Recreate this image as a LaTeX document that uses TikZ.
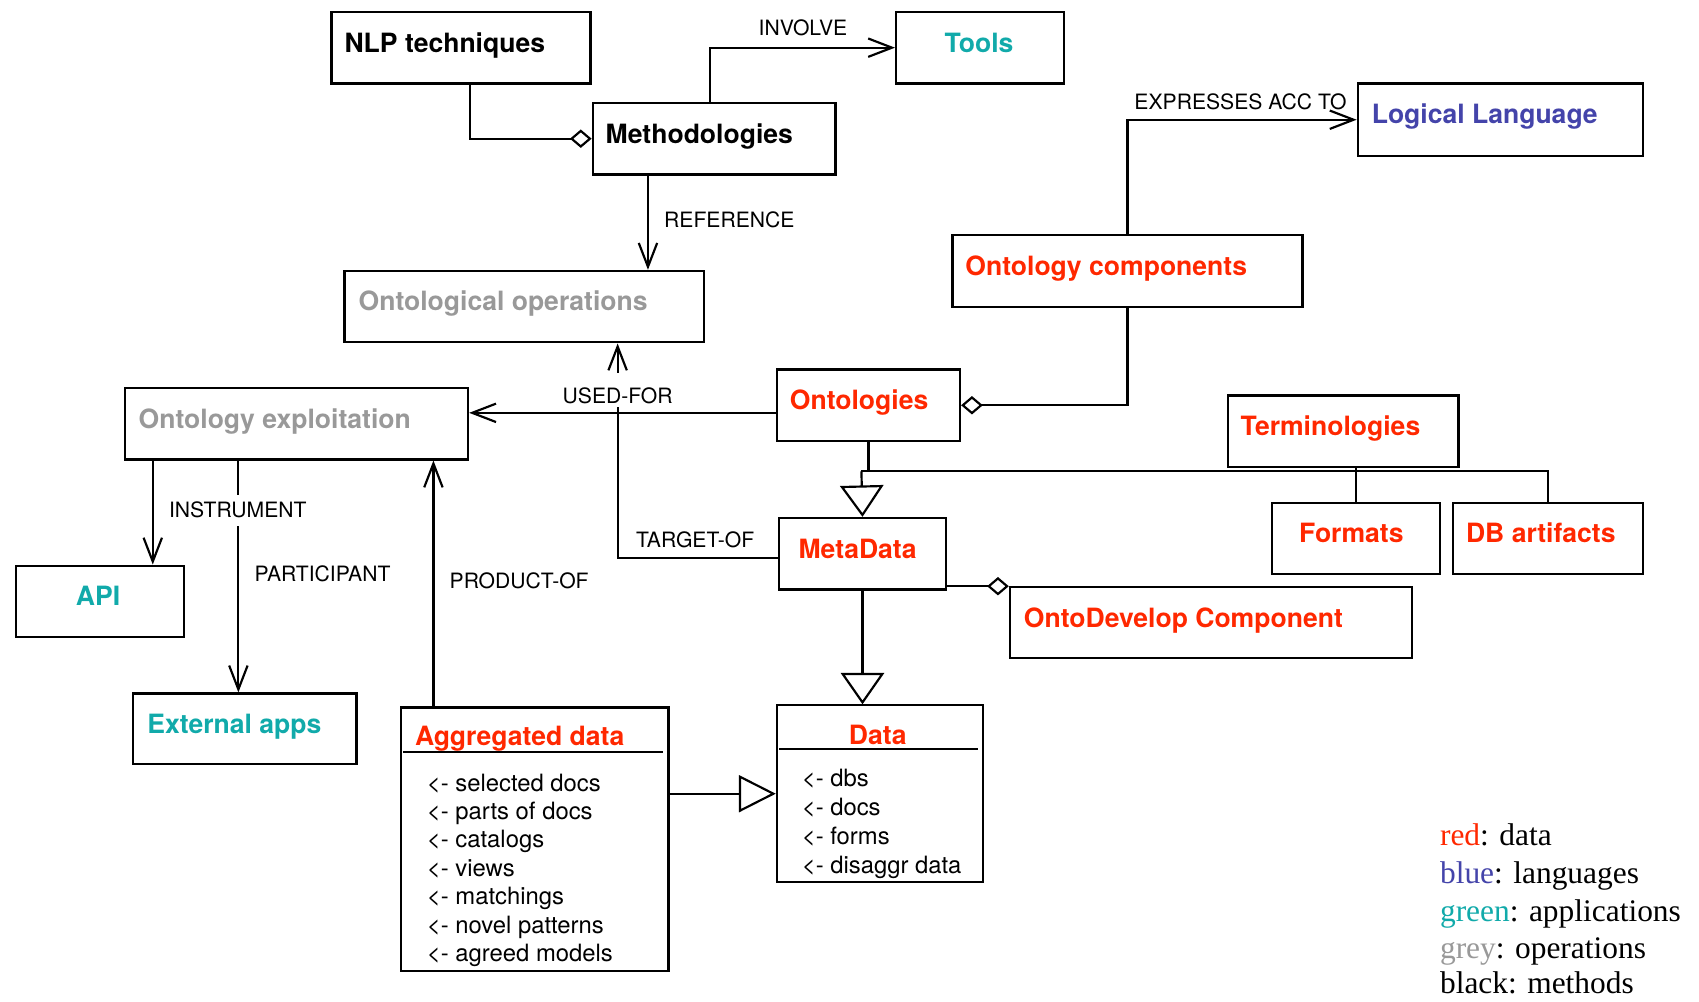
\documentclass[tikz,border=0pt]{standalone}
\usepackage{fontspec}
\setmainfont{TeX Gyre Heros}
\newfontfamily\legendfont{Liberation Serif}
\usetikzlibrary{arrows.meta}
\definecolor{datared}{RGB}{255,40,0}
\definecolor{langblue}{RGB}{68,68,170}
\definecolor{appteal}{RGB}{17,170,170}
\definecolor{opgrey}{RGB}{153,153,153}
\begin{document}
\begin{tikzpicture}[x=1pt,y=-1pt,line width=2pt,
  box/.style={draw=black,rectangle,inner sep=0pt,anchor=north west},
  ttl/.style={font=\fontsize{24.5}{29}\selectfont\bfseries,inner sep=0pt,anchor=base west},
  rel/.style={font=\fontsize{19.5}{23}\selectfont,inner sep=0pt,anchor=base west},
  item/.style={font=\fontsize{22}{26}\selectfont,inner sep=0pt,anchor=base west},
  legend/.style={font=\legendfont\fontsize{29}{35}\selectfont,inner sep=0pt,anchor=base west},
  arr/.style={-{Straight Barb[length=22pt,width=17pt]}},
  gen/.style={-{Triangle[length=29pt,width=40pt,fill=white]}},
  gensq/.style={-{Triangle[length=34pt,width=34pt,fill=white]}},
  whole/.style={{Diamond[length=20pt,width=17pt,fill=white]}-}]

\fill[white] (0,0) rectangle (1568,924);
\useasboundingbox (0,0) rectangle (1568,924);

% boxes
\node[box,minimum width=239pt,minimum height=66pt] (nlp) at (305,10) {};
\node[box,minimum width=224pt,minimum height=66pt] (meth) at (546,94) {};
\node[box,minimum width=155pt,minimum height=66pt] (tools) at (826,10) {};
\node[box,minimum width=263pt,minimum height=67pt] (logic) at (1252,76) {};
\node[box,minimum width=332pt,minimum height=66pt] (ontop) at (317,249) {};
\node[box,minimum width=323pt,minimum height=66pt] (ocomp) at (878,216) {};
\node[box,minimum width=317pt,minimum height=66pt] (exploit) at (114,357) {};
\node[box,minimum width=169pt,minimum height=66pt] (ontol) at (716,340) {};
\node[box,minimum width=213pt,minimum height=66pt] (term) at (1132,364) {};
\node[box,minimum width=154pt,minimum height=66pt] (meta) at (718,477) {};
\node[box,minimum width=155pt,minimum height=66pt] (formats) at (1173,463) {};
\node[box,minimum width=175pt,minimum height=66pt] (dbart) at (1340,463) {};
\node[box,minimum width=155pt,minimum height=66pt] (api) at (14,521) {};
\node[box,minimum width=371pt,minimum height=65pt] (ontodev) at (931,541) {};
\node[box,minimum width=206pt,minimum height=65pt] (extapp) at (122,639) {};
\node[box,minimum width=247pt,minimum height=243pt] (agg) at (369,652) {};
\node[box,minimum width=190pt,minimum height=163pt] (data) at (716,650) {};

% box titles
\node[ttl] (t-nlp) at (317,48) {NLP techniques};
\node[ttl] (t-meth) at (558,132) {Methodologies};
\node[ttl,anchor=base,text=appteal] (t-tools) at (903.5,48) {Tools};
\node[ttl,text=langblue] (t-logic) at (1265,114) {Logical Language};
\node[ttl,text=opgrey] (t-ontop) at (330,287) {Ontological operations};
\node[ttl,text=datared] (t-ocomp) at (890,254) {Ontology components};
\node[ttl,text=opgrey] (t-exploit) at (127,395) {Ontology exploitation};
\node[ttl,text=datared] (t-ontol) at (728,378) {Ontologies};
\node[ttl,text=datared] (t-term) at (1144,402) {Terminologies};
\node[ttl,text=datared] (t-meta) at (736,515) {MetaData};
\node[ttl,text=datared] (t-formats) at (1198,501) {Formats};
\node[ttl,text=datared] (t-dbart) at (1352,501) {DB artifacts};
\node[ttl,anchor=base,text=appteal] (t-api) at (90.5,559) {API};
\node[ttl,text=datared] (t-ontodev) at (944,579) {OntoDevelop Component};
\node[ttl,text=appteal] (t-extapp) at (135,677) {External apps};
\node[ttl,text=datared] (t-agg) at (382,688) {Aggregated data};
\node[ttl,anchor=base,text=datared] (t-data) at (810,687) {Data};

% compartment rules
\draw (372,694) -- (612,694);
\draw (719,691) -- (903,691);

% compartment entries
\foreach \txt [count=\i from 0] in {selected docs,parts of docs,catalogs,views,matchings,novel patterns,agreed models}
  \node[item] (agg-\i) at (393,730+26.3*\i) {<- \txt};
\foreach \txt [count=\i from 0] in {dbs,docs,forms,disaggr data}
  \node[item] (data-\i) at (739,726+26.7*\i) {<- \txt};

% connector guide coordinates
\coordinate (cx-nlp) at (434,0);
\coordinate (cx-inv) at (655,0);
\coordinate (cx-ref) at (598,0);
\coordinate (cy-uf) at (0,381);
\coordinate (cy-tg) at (0,515);
\coordinate (uf-top) at (570,344);
\coordinate (uf-bot) at (570,376);
\coordinate (cx-api) at (141,0);
\coordinate (cx-ext) at (220,0);
\coordinate (cx-prod) at (400,0);
\coordinate (bus) at (795,435);

% connectors
\draw[whole] (meth.west) -| (nlp.south -| cx-nlp);
\draw[arr] (meth.north -| cx-inv) |- (tools.west);
\draw[arr] (meth.south -| cx-ref) -- (ontop.north -| cx-ref);
\draw[arr] (ocomp.north) |- (logic.west);
\draw[whole] (ontol.east) -| (ocomp.south);
\draw[arr] (ontol.west |- cy-uf) -- (exploit.east |- cy-uf);
\draw[arr] (uf-top) -- (ontop.south -| uf-top);
\draw (uf-bot) |- (meta.west |- cy-tg);
\draw[arr] (exploit.south -| cx-api) -- (api.north -| cx-api);
\draw[arr] (exploit.south -| cx-ext) -- (extapp.north -| cx-ext);
\draw[arr] (agg.north -| cx-prod) -- (exploit.south -| cx-prod);
\draw (ontol.south) |- (bus);
\draw (bus) -- (dbart.north |- bus) -- (dbart.north);
\draw (term.south -| formats.north) -- (formats.north);
\draw[gen] (bus) -- (meta.north);
\draw[gen] (meta.south) -- (meta.south |- data.north);
\draw[gensq] (agg.east |- data.west) -- (data.west);
\draw[whole] (ontodev.north west) -- (ontodev.north west -| meta.east);

% connector labels
\node[rel,anchor=base] (l-involve) at (741,33) {INVOLVE};
\node[rel] (l-reference) at (612,210) {REFERENCE};
\node[rel] (l-express) at (1046,101) {EXPRESSES ACC TO};
\node[rel,anchor=base] (l-usedfor) at (570,372) {USED-FOR};
\node[rel,fill=white,inner ysep=7pt] (l-instrument) at (155,478) {INSTRUMENT};
\node[rel] (l-participant) at (234,537) {PARTICIPANT};
\node[rel] (l-product) at (414,543) {PRODUCT-OF};
\node[rel] (l-target) at (586,505) {TARGET-OF};

% colour legend
\node[legend] (lg-red) at (1328,780) {\textcolor{datared}{red}: data};
\node[legend] (lg-blue) at (1328,815) {\textcolor{langblue}{blue}: languages};
\node[legend] (lg-green) at (1328,850) {\textcolor{appteal}{green}: applications};
\node[legend] (lg-grey) at (1328,885) {\textcolor{opgrey}{grey}: operations};
\node[legend] (lg-black) at (1328,917) {black: methods};
\end{tikzpicture}
\end{document}
